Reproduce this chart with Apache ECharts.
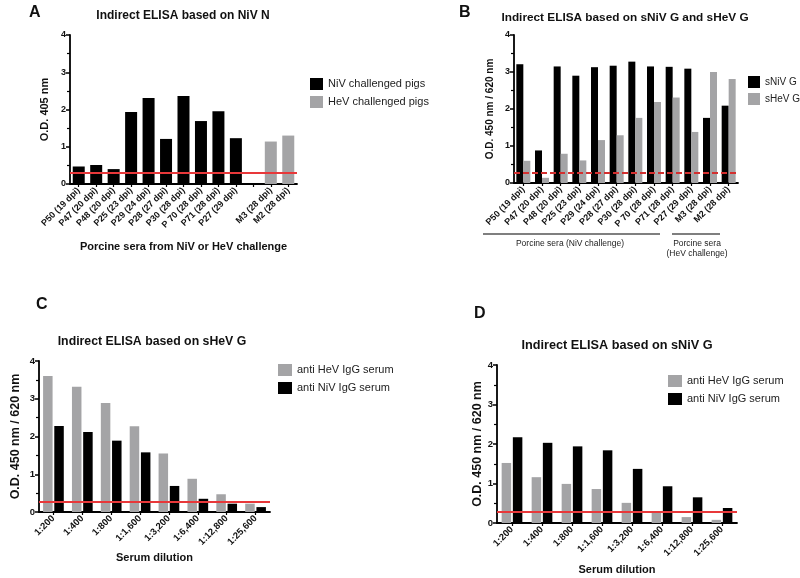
<!DOCTYPE html>
<html>
<head>
<meta charset="utf-8">
<script src="https://cdn.jsdelivr.net/npm/echarts@6/dist/echarts.min.js"></script>
<style>
html,body{margin:0;padding:0;background:#fff;}
#chart{width:800px;height:578px;}
</style>
</head>
<body>
<div id="chart"></div>
<script>
// ---------- Data ----------
// Panel A
const catsA = ['P50 (19 dpi)','P47 (20 dpi)','P48 (20 dpi)','P25 (23 dpi)','P29 (24 dpi)','P28 (27 dpi)','P30 (28 dpi)','P 70 (28 dpi)','P71 (28 dpi)','P27 (29 dpi)','','M3 (28 dpi)','M2 (28 dpi)'];
const nivPigsA = [0.47,0.51,0.40,1.93,2.31,1.21,2.36,1.69,1.95,1.23,null,null,null];
const hevPigsA = [null,null,null,null,null,null,null,null,null,null,null,1.14,1.30];
const cutoffA = 0.30;
// Panel B
const catsB = ['P50 (19 dpi)','P47 (20 dpi)','P48 (20 dpi)','P25 (23 dpi)','P29 (24 dpi)','P28 (27 dpi)','P30 (28 dpi)','P 70 (28 dpi)','P71 (28 dpi)','P27 (29 dpi)','M3 (28 dpi)','M2 (28 dpi)'];
const sNiVG = [3.21,0.88,3.15,2.90,3.13,3.17,3.28,3.15,3.14,3.09,1.76,2.09];
const sHeVG = [0.60,0.14,0.79,0.61,1.16,1.29,1.76,2.19,2.31,1.38,3.00,2.81];
const cutoffB = 0.28;
// Panels C and D
const dilutions = ['1:200','1:400','1:800','1:1,600','1:3,200','1:6,400','1:12,800','1:25,600'];
const antiHeVC = [3.60,3.32,2.89,2.27,1.55,0.88,0.47,0.22];
const antiNiVC = [2.28,2.12,1.89,1.58,0.69,0.35,0.22,0.13];
const cutoffC = 0.28;
const antiHeVD = [1.52,1.16,0.99,0.86,0.51,0.29,0.15,0.08];
const antiNiVD = [2.17,2.03,1.94,1.84,1.37,0.93,0.65,0.38];
const cutoffD = 0.29;
const yTicks = [0,1,2,3,4];

// ---------- Styles ----------
const FONT = 'Liberation Sans, Arial, sans-serif';
const BLACK = '#000000';
const GRAY = '#a4a4a6';
const RED = '#e8383a';

function yAxis(gridIndex, name, nameGap, nameSize, labelSize) {
  return {
    type: 'value', gridIndex, min: yTicks[0], max: yTicks[yTicks.length-1], interval: 1,
    name, nameLocation: 'middle', nameGap,
    nameTextStyle: {fontFamily: FONT, fontWeight: 'bold', fontSize: nameSize, color: '#111'},
    axisLine: {show: true, lineStyle: {color: '#000', width: 1.8}},
    axisTick: {show: true, length: 4, lineStyle: {color: '#000', width: 1.5}},
    minorTick: {show: true, splitNumber: 2, length: 3, lineStyle: {color: '#000', width: 1.2}},
    splitLine: {show: false},
    axisLabel: {fontFamily: FONT, fontWeight: 'bold', fontSize: labelSize, color: '#111', margin: 4}
  };
}
function xAxis(gridIndex, data, name, nameGap, nameSize, labelSize) {
  return {
    type: 'category', gridIndex, data,
    name, nameLocation: 'middle', nameGap,
    nameTextStyle: {fontFamily: FONT, fontWeight: 'bold', fontSize: nameSize, color: '#111'},
    axisLine: {show: true, lineStyle: {color: '#000', width: 1.8}},
    axisTick: {show: true, alignWithLabel: true, length: 3, lineStyle: {color: '#000', width: 1.2}},
    axisLabel: {fontFamily: FONT, fontWeight: 'bold', fontSize: labelSize, color: '#111', rotate: 45, interval: 0, margin: 5},
    splitLine: {show: false}
  };
}
function cutoffLine(val, dashed) {
  return {
    silent: true, symbol: 'none', label: {show: false},
    lineStyle: {color: dashed ? '#d32f2f' : RED, width: dashed ? 2 : 1.8, type: dashed ? [6,3] : 'solid', opacity: 1},
    data: [{yAxis: val}]
  };
}
function legend(left, top, names, fontSize, iw, ih, gap) {
  return {
    orient: 'vertical', left, top, data: names, itemWidth: iw, itemHeight: ih, itemGap: gap,
    icon: 'rect', selectedMode: false, padding: 0,
    textStyle: {fontFamily: FONT, fontSize, color: '#222'}
  };
}

const chart = echarts.init(document.getElementById('chart'), null, {renderer: 'canvas'});
const option = {
  backgroundColor: '#ffffff',
  animation: false,
  grid: [
    {left: 70, top: 35, width: 227, height: 149},
    {left: 514, top: 35, width: 224, height: 148},
    {left: 39, top: 361, width: 231, height: 151},
    {left: 497, top: 365, width: 240, height: 158}
  ],
  xAxis: [
    xAxis(0, catsA, 'Porcine sera from NiV or HeV challenge', 57, 11, 9),
    xAxis(1, catsB, '', 0, 11, 9),
    xAxis(2, dilutions, 'Serum dilution', 40, 11, 9.5),
    xAxis(3, dilutions, 'Serum dilution', 41, 11, 9.5)
  ],
  yAxis: [
    yAxis(0, 'O.D. 405 nm', 20, 11, 9),
    yAxis(1, 'O.D. 450 nm / 620 nm', 19, 10, 9),
    yAxis(2, 'O.D. 450 nm / 620 nm', 17, 12.5, 9.5),
    yAxis(3, 'O.D. 450 nm / 620 nm', 12, 12.5, 9.5)
  ],
  legend: [
    legend(310, 78, ['NiV challenged pigs','HeV challenged pigs'], 11, 13, 12, 6),
    legend(748, 76, ['sNiV G','sHeV G'], 10, 12, 12, 5),
    legend(278, 364, ['anti HeV IgG serum','anti NiV IgG serum'], 11, 14, 12, 6),
    legend(668, 375, ['anti HeV IgG serum ','anti NiV IgG serum '], 11, 14, 12, 6)
  ],
  series: [
    {name: 'NiV challenged pigs', type: 'bar', xAxisIndex: 0, yAxisIndex: 0, data: nivPigsA,
     barWidth: 12, barGap: '-100%', itemStyle: {color: BLACK}, markLine: cutoffLine(cutoffA, false)},
    {name: 'HeV challenged pigs', type: 'bar', xAxisIndex: 0, yAxisIndex: 0, data: hevPigsA,
     barWidth: 12, barGap: '-100%', itemStyle: {color: GRAY}},
    {name: 'sNiV G', type: 'bar', xAxisIndex: 1, yAxisIndex: 1, data: sNiVG,
     barWidth: 7, barGap: '0%', itemStyle: {color: BLACK}},
    {name: 'sHeV G', type: 'bar', xAxisIndex: 1, yAxisIndex: 1, data: sHeVG, z: 2,
     barWidth: 7, barGap: '0%', itemStyle: {color: GRAY}, markLine: Object.assign(cutoffLine(cutoffB, true), {z: 5})},
    {name: 'anti HeV IgG serum', type: 'bar', xAxisIndex: 2, yAxisIndex: 2, data: antiHeVC,
     barWidth: 9.5, barGap: '18%', itemStyle: {color: GRAY}},
    {name: 'anti NiV IgG serum', type: 'bar', xAxisIndex: 2, yAxisIndex: 2, data: antiNiVC,
     barWidth: 9.5, barGap: '18%', itemStyle: {color: BLACK}, markLine: cutoffLine(cutoffC, false)},
    {name: 'anti HeV IgG serum ', type: 'bar', xAxisIndex: 3, yAxisIndex: 3, data: antiHeVD,
     barWidth: 9.5, barGap: '18%', itemStyle: {color: GRAY}},
    {name: 'anti NiV IgG serum ', type: 'bar', xAxisIndex: 3, yAxisIndex: 3, data: antiNiVD,
     barWidth: 9.5, barGap: '18%', itemStyle: {color: BLACK}, markLine: cutoffLine(cutoffD, false)}
  ],
  graphic: [
    // panel letters
    {type: 'text', left: 29, top: 5, style: {text: 'A', font: 'bold 16px ' + FONT, fill: '#111'}},
    {type: 'text', left: 459, top: 5, style: {text: 'B', font: 'bold 16px ' + FONT, fill: '#111'}},
    {type: 'text', left: 36, top: 297, style: {text: 'C', font: 'bold 16px ' + FONT, fill: '#111'}},
    {type: 'text', left: 474, top: 306, style: {text: 'D', font: 'bold 16px ' + FONT, fill: '#111'}},
    // panel titles
    {type: 'text', x: 183, y: 16, style: {text: 'Indirect ELISA based on NiV N', font: 'bold 12px ' + FONT, fill: '#111', textAlign: 'center', textVerticalAlign: 'middle'}},
    {type: 'text', x: 625, y: 18, style: {text: 'Indirect ELISA based on sNiV G and sHeV G', font: 'bold 11.8px ' + FONT, fill: '#111', textAlign: 'center', textVerticalAlign: 'middle'}},
    {type: 'text', x: 152, y: 342, style: {text: 'Indirect ELISA based on sHeV G', font: 'bold 12.3px ' + FONT, fill: '#111', textAlign: 'center', textVerticalAlign: 'middle'}},
    {type: 'text', x: 617, y: 345, style: {text: 'Indirect ELISA based on sNiV G', font: 'bold 12.7px ' + FONT, fill: '#111', textAlign: 'center', textVerticalAlign: 'middle'}},
    // panel B group brackets
    {type: 'line', shape: {x1: 483, y1: 234, x2: 660, y2: 234}, style: {stroke: '#555', lineWidth: 1.5}},
    {type: 'line', shape: {x1: 672, y1: 234, x2: 720, y2: 234}, style: {stroke: '#555', lineWidth: 1.5}},
    {type: 'text', x: 570, y: 244, style: {text: 'Porcine sera (NiV challenge)', font: '8.5px ' + FONT, fill: '#222', textAlign: 'center', textVerticalAlign: 'middle'}},
    {type: 'text', x: 697, y: 244, style: {text: 'Porcine sera', font: '8.5px ' + FONT, fill: '#222', textAlign: 'center', textVerticalAlign: 'middle'}},
    {type: 'text', x: 697, y: 254, style: {text: '(HeV challenge)', font: '8.5px ' + FONT, fill: '#222', textAlign: 'center', textVerticalAlign: 'middle'}}
  ]
};
chart.setOption(option);
</script>
</body>
</html>
